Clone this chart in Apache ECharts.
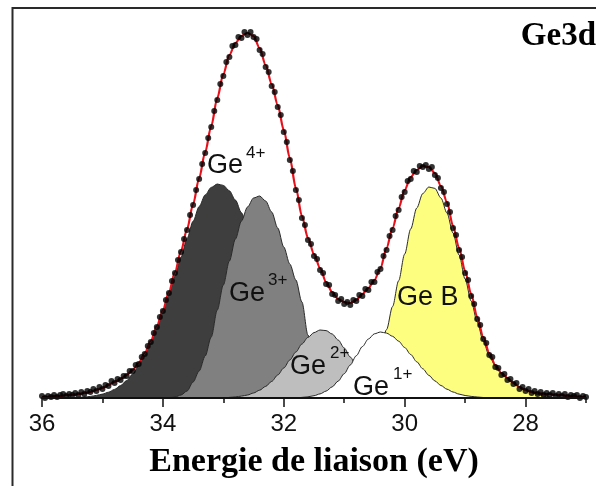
<!DOCTYPE html>
<html><head><meta charset="utf-8">
<script src="https://cdn.jsdelivr.net/npm/echarts@6/dist/echarts.min.js"></script>
<style>html,body{margin:0;padding:0;background:#fff}#c{width:596px;height:486px}</style>
</head><body><div id="c"></div>
<script>
// ---- data (binding energy in eV, intensity in arbitrary units) ----
const energy = [
36.0,35.9,35.8,35.7,35.6,35.5,35.4,35.3,35.2,35.1,
35.0,34.9,34.8,34.7,34.6,34.5,34.4,34.3,34.2,34.1,
34.0,33.9,33.8,33.7,33.6,33.5,33.4,33.3,33.2,33.1,
33.0,32.9,32.8,32.7,32.6,32.5,32.4,32.3,32.2,32.1,
32.0,31.9,31.8,31.7,31.6,31.5,31.4,31.3,31.2,31.1,
31.0,30.9,30.8,30.7,30.6,30.5,30.4,30.3,30.2,30.1,
30.0,29.9,29.8,29.7,29.6,29.5,29.4,29.3,29.2,29.1,
29.0,28.9,28.8,28.7,28.6,28.5,28.4,28.3,28.2,28.1,
28.0,27.9,27.8,27.7,27.6,27.5,27.4,27.3,27.2,27.1,
27.0];
const envelope = [
1,1,2,2,3,3,4,5,6,8,
10,13,16,19,23,28,35,45,57,72,
88,106,126,147,169,194,220,246,272,300,
324,343,355,362,365,362,350,333,314,293,
268,240,210,182,160,144,130,116,106,99,
96,95,98,104,110,118,130,150,170,190,
208,221,228,232,231,225,212,196,172,150,
127,104,81,61,45,33,25,20,15,11,
8,6,5,4,4,3,3,2,2,1,
1];
const ge4 = [
0,0,0.1,0.2,0.3,0.5,0.6,1.0,1.6,2.6,
3.9,5.8,8.6,12.4,17.4,23.9,32.3,42.5,54.7,69.1,
85.3,103.1,121.9,141,159.6,176.8,191.5,203.1,210.6,214,
212.6,207.2,197.9,185.3,170,152.9,134.8,116.5,98.7,82,
66.7,53.2,41.6,31.9,24,17.6,12.7,9,6.3,4.3,
2.8,1.8,1.2,0.7,0.4,0.2,0,0,0,0,
0,0,0,0,0,0,0,0,0,0,
0,0,0,0,0,0,0,0,0,0,
0,0,0,0,0,0,0,0,0,0,
0];
const ge3 = [
0,0,0,0,0,0,0,0,0,0,
0,0,0,0,0,0,0,0,0,0,
0,0,1,3,7,16,27,42,61,88,
113,137,159,177,191,200,202,197,186,170,
151,134,118,96,63,40,24,13,6,3,
1,0,0,0,0,0,0,0,0,0,
0,0,0,0,0,0,0,0,0,0,
0,0,0,0,0,0,0,0,0,0,
0,0,0,0,0,0,0,0,0,0,
0];
const ge2 = [
0,0,0,0,0,0,0,0,0,0,
0,0,0,0,0,0,0,0,0,0,
0,0,0,0,0,0,0,0,0,0,
0,0.6,1.1,1.9,3,5,7.8,11.6,16.6,23,
30,38,46,54,60.6,65.4,68,67.4,64,58,
50,41,32,24,17,11.7,7.6,4.7,2.7,1.5,
0.8,0.3,0,0,0,0,0,0,0,0,
0,0,0,0,0,0,0,0,0,0,
0,0,0,0,0,0,0,0,0,0,
0];
const ge1 = [
0,0,0,0,0,0,0,0,0,0,
0,0,0,0,0,0,0,0,0,0,
0,0,0,0,0,0,0,0,0,0,
0,0,0,0,0,0,0,0,0,0,
0,0,0,0.6,1.2,2.3,4.1,6.9,11.1,16.9,
24.3,33,42.3,51.4,59,64.2,66,64.9,61.7,56.8,
50.5,43.5,36.2,29.2,22.7,17.1,12.5,8.8,6,3.9,
2.5,1.6,1,0.5,0,0,0,0,0,0,
0,0,0,0,0,0,0,0,0,0,
0];
const geB = [
0,0,0,0,0,0,0,0,0,0,
0,0,0,0,0,0,0,0,0,0,
0,0,0,0,0,0,0,0,0,0,
0,0,0,0,0,0,0,0,0,0,
0,0,0,0,0,0,0,0.3,0.7,1.4,
2.6,4.8,8.3,13.8,22,33.5,48.9,68.4,91.5,117.2,
143.9,169,190,204.5,211,209.6,200,185,165,143,
119,97,76,57,42,32,25,20,15,11,
8,5.5,3.5,2,1,0,0,0,0,0,
0];
const dataEnergy = [
36.00,35.95,35.90,35.85,35.80,35.75,35.70,35.65,35.60,35.55,
35.50,35.45,35.40,35.35,35.30,35.25,35.20,35.15,35.10,35.05,
35.00,34.95,34.90,34.85,34.80,34.75,34.70,34.65,34.60,34.55,
34.50,34.45,34.40,34.35,34.30,34.25,34.20,34.15,34.10,34.05,
34.00,33.95,33.90,33.85,33.80,33.75,33.70,33.65,33.60,33.55,
33.50,33.45,33.40,33.35,33.30,33.25,33.20,33.15,33.10,33.05,
33.00,32.95,32.90,32.85,32.80,32.75,32.70,32.65,32.60,32.55,
32.50,32.45,32.40,32.35,32.30,32.25,32.20,32.15,32.10,32.05,
32.00,31.95,31.90,31.85,31.80,31.75,31.70,31.65,31.60,31.55,
31.50,31.45,31.40,31.35,31.30,31.25,31.20,31.15,31.10,31.05,
31.00,30.95,30.90,30.85,30.80,30.75,30.70,30.65,30.60,30.55,
30.50,30.45,30.40,30.35,30.30,30.25,30.20,30.15,30.10,30.05,
30.00,29.95,29.90,29.85,29.80,29.75,29.70,29.65,29.60,29.55,
29.50,29.45,29.40,29.35,29.30,29.25,29.20,29.15,29.10,29.05,
29.00,28.95,28.90,28.85,28.80,28.75,28.70,28.65,28.60,28.55,
28.50,28.45,28.40,28.35,28.30,28.25,28.20,28.15,28.10,28.05,
28.00,27.95,27.90,27.85,27.80,27.75,27.70,27.65,27.60,27.55,
27.50,27.45,27.40,27.35,27.30,27.25,27.20,27.15,27.10,27.05,
27.00];
const dataCounts = [
2,0,2,1,3,1,3,4,2,4,
3,5,3,6,4,7,6,9,7,11,
9,13,12,17,15,19,18,22,22,27,
27,33,34,41,44,52,56,65,71,81,
87,98,105,117,125,138,146,159,168,183,
193,208,219,234,245,260,271,287,298,314,
322,336,341,352,353,361,360,366,363,366,
361,359,348,344,331,326,312,306,291,283,
266,256,238,227,208,198,180,173,158,154,
142,139,128,125,114,113,104,103,97,99,
94,96,93,98,97,103,102,109,108,116,
116,126,129,142,148,162,168,182,188,201,
206,217,219,227,226,232,231,233,229,231,
223,220,210,206,194,186,170,163,148,141,
125,118,102,94,79,73,59,55,43,41,
31,30,23,24,18,19,14,15,9,11,
7,9,5,7,4,6,3,5,3,5,
2,4,2,4,1,3,2,3,0,2,
1];
const majorTicks = [36, 34, 32, 30, 28];
const minorTicks = [35, 33, 31, 29, 27];
const xTitle = 'Energie de liaison (eV)';
const panelLabel = 'Ge3d';

// ---- chart ----
const zip = (xs, ys) => xs.map((x, i) => [x, ys[i]]);
const SANS = "'Liberation Sans', Arial, sans-serif";
const SERIF = "'Liberation Serif', 'Times New Roman', serif";

function comp(name, vals, fill, z) {
  return {
    name, type: 'line', z, data: zip(energy, vals), symbol: 'none',
    smooth: 0.3, smoothMonotone: 'x',
    lineStyle: { color: '#2a2a2a', width: 1 },
    areaStyle: { color: fill, opacity: 1 },
    silent: true
  };
}

function txt(x, y, text, size) {
  return {
    type: 'text', x, y, z: 100,
    style: { text, font: size + 'px ' + SANS, fill: '#111',
             textAlign: 'left', textVerticalAlign: 'middle' }
  };
}

const chart = echarts.init(document.getElementById('c'), null, { renderer: 'canvas' });
chart.setOption({
  animation: false,
  backgroundColor: '#fff',
  grid: { left: 42, right: 10, top: 30, bottom: 88 },
  xAxis: [{
    type: 'value', min: 27, max: 36, interval: 1, inverse: true, z: 20,
    axisLine: { lineStyle: { color: '#111', width: 2 } },
    axisTick: { customValues: majorTicks, length: 9, lineStyle: { color: '#111', width: 1.5 } },
    axisLabel: { customValues: majorTicks, fontSize: 24, fontFamily: SANS, color: '#111', margin: 14 },
    splitLine: { show: false },
    name: xTitle, nameLocation: 'middle', nameGap: 47,
    nameTextStyle: { fontFamily: SERIF, fontWeight: 'bold', fontSize: 34, color: '#000' }
  }, {
    type: 'value', min: 27, max: 36, interval: 1, inverse: true, position: 'bottom', z: 20,
    axisLine: { show: false },
    axisTick: { customValues: minorTicks, length: 5, lineStyle: { color: '#111', width: 1.5 } },
    axisLabel: { show: false },
    splitLine: { show: false }
  }],
  yAxis: { type: 'value', min: 0, max: 368, show: false },
  series: [
    comp('Ge B', geB, '#fdfd80', 2),
    comp('Ge4+', ge4, '#3e3e3e', 3),
    comp('Ge3+', ge3, '#808080', 4),
    comp('Ge2+', ge2, '#bebebe', 5),
    comp('Ge1+', ge1, '#ffffff', 6),
    { name: 'fit', type: 'line', z: 7, data: zip(energy, envelope), symbol: 'none',
      smooth: 0.3, smoothMonotone: 'x',
      lineStyle: { color: '#e8101a', width: 2.2 }, silent: true },
    { name: 'data', type: 'scatter', z: 8, data: zip(dataEnergy, dataCounts),
      symbolSize: 6, itemStyle: { color: '#000' }, silent: true }
  ],
  graphic: [
    { type: 'polyline', z: 100, shape: { points: [[12.5, 486], [12.5, 8], [596, 8]] },
      style: { stroke: '#2a2a2a', lineWidth: 2, fill: null } },
    { type: 'text', x: 596, y: 36, z: 100,
      style: { text: panelLabel, font: 'bold 33px ' + SERIF, fill: '#000',
               textAlign: 'right', textVerticalAlign: 'middle' } },
    txt(207, 166, 'Ge', 27), txt(246, 153, '4+', 17),
    txt(229, 294, 'Ge', 27), txt(268, 280, '3+', 17),
    txt(290, 367, 'Ge', 27), txt(330, 353, '2+', 17),
    txt(353, 388, 'Ge', 27), txt(393, 374, '1+', 17),
    txt(397, 298, 'Ge B', 27)
  ]
});
</script></body></html>
